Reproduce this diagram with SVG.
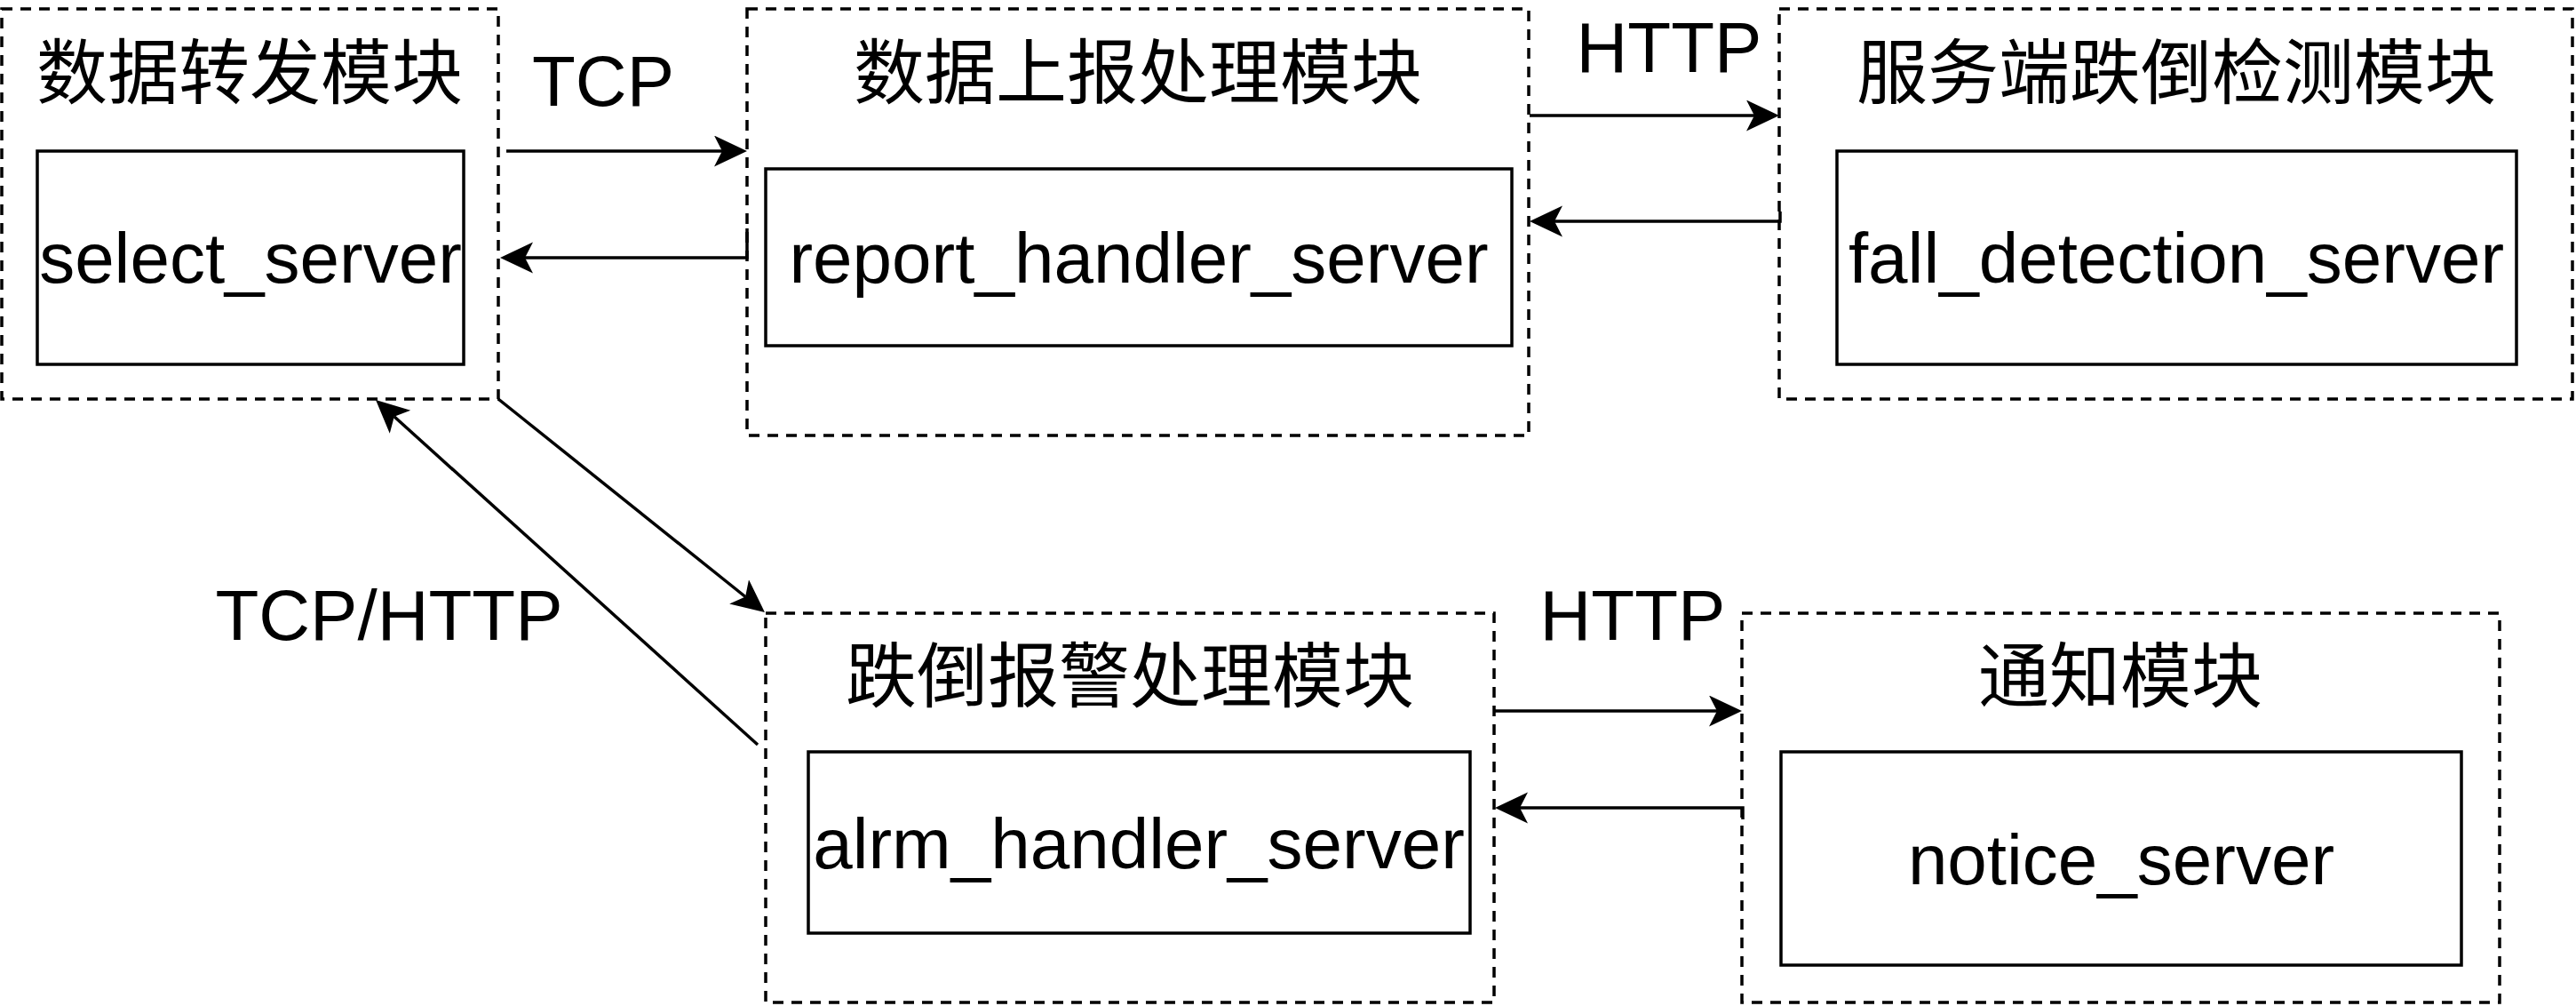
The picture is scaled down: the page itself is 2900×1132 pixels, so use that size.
<svg xmlns="http://www.w3.org/2000/svg" width="2900" height="1132" viewBox="0 0 2900 1132">
<defs>
<style>
.module{fill:#fff;stroke:#000;stroke-width:3.5;stroke-dasharray:12 9}
.server{fill:#fff;stroke:#000;stroke-width:3.5}
text{font-family:"Liberation Sans","Noto Sans CJK SC",sans-serif;font-size:80px;fill:#000;text-anchor:middle}
.edge{fill:none;stroke:#000;stroke-width:3.5}
</style>
<marker id="arrow" markerUnits="userSpaceOnUse" markerWidth="40" markerHeight="40" refX="9" refY="17.5" orient="auto">
<path d="M0,0 L37,17.5 L0,35 L9,17.5 Z" fill="#000"/>
</marker>
</defs>
<rect width="2900" height="1132" fill="#fff"/>

<g id="forward-module">
<rect class="module" x="2" y="10" width="559" height="439"/>
<text x="281" y="110">数据转发模块</text>
<rect class="server" x="42" y="170" width="480" height="240"/>
<text x="282" y="318">select_server</text>
</g>

<g id="report-module">
<rect class="module" x="841" y="10" width="880" height="480"/>
<text x="1281" y="110">数据上报处理模块</text>
<rect class="server" x="862" y="190" width="840" height="199"/>
<text x="1282" y="318">report_handler_server</text>
</g>

<g id="fall-detection-module">
<rect class="module" x="2003" y="10" width="893" height="439"/>
<text x="2450" y="110">服务端跌倒检测模块</text>
<rect class="server" x="2068" y="170" width="765" height="240"/>
<text x="2450" y="318">fall_detection_server</text>
</g>

<g id="alarm-module">
<rect class="module" x="862" y="690" width="820" height="438"/>
<text x="1272" y="789">跌倒报警处理模块</text>
<rect class="server" x="910" y="846" width="745" height="204"/>
<text x="1282" y="977">alrm_handler_server</text>
</g>

<g id="notice-module">
<rect class="module" x="1961" y="690" width="853" height="438"/>
<text x="2387" y="789">通知模块</text>
<rect class="server" x="2005" y="846" width="766" height="240"/>
<text x="2388" y="995">notice_server</text>
</g>

<g id="connectors">
<path class="edge" d="M570,170 H813" marker-end="url(#arrow)"/>
<path class="edge" d="M841,257 V290 H591" marker-end="url(#arrow)"/>
<path class="edge" d="M1722,130 H1975" marker-end="url(#arrow)"/>
<path class="edge" d="M2004,238 V249 H1750" marker-end="url(#arrow)"/>
<path class="edge" d="M561,449 L839.1,671.5" marker-end="url(#arrow)"/>
<path class="edge" d="M853,838 L443.8,468.8" marker-end="url(#arrow)"/>
<path class="edge" d="M1682,800 H1933" marker-end="url(#arrow)"/>
<path class="edge" d="M1962,922 V909 H1711" marker-end="url(#arrow)"/>
<text x="679" y="119">TCP</text>
<text x="1879" y="81">HTTP</text>
<text x="1838" y="720">HTTP</text>
<text x="438" y="720">TCP/HTTP</text>
</g>
</svg>
